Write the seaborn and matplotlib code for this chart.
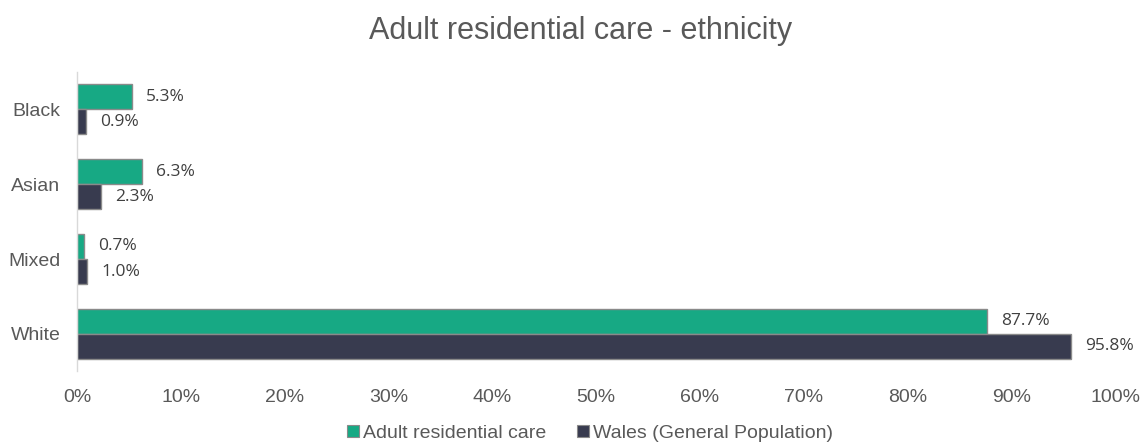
import matplotlib
matplotlib.use("Agg")
import matplotlib.pyplot as plt
import seaborn as sns
import pandas as pd
from matplotlib.patches import Patch

categories = ["Black", "Asian", "Mixed", "White"]
series_names = ["Adult residential care", "Wales (General Population)"]
care_values = [5.3, 6.3, 0.7, 87.7]
wales_values = [0.9, 2.3, 1.0, 95.8]
colors = ["#17A984", "#383B4F"]

df = pd.DataFrame({
    "Ethnicity": categories * 2,
    "Value": care_values + wales_values,
    "Series": [series_names[0]] * 4 + [series_names[1]] * 4,
})

sns.set_theme(style="white")
plt.rcParams["font.family"] = ["Liberation Sans", "DejaVu Sans"]

fig = plt.figure(figsize=(11.46, 4.48), dpi=100)
ax = fig.add_axes([0.0672, 0.171, 0.9058, 0.669])

sns.barplot(data=df, y="Ethnicity", x="Value", hue="Series", order=categories,
            hue_order=series_names, palette=colors, saturation=1, orient="h", width=0.67,
            edgecolor="#8a8a8a", linewidth=1.0, ax=ax, legend=False, errorbar=None)

for container in ax.containers:
    ax.bar_label(container, labels=[f"{v:.1f}%" for v in container.datavalues],
                 padding=10, fontsize=12.5, color="#404040", family="Open Sans")

ax.set_xlim(0, 100)
ax.set_ylim(3.5, -0.5)
ax.set_xticks(range(0, 101, 10))
ax.set_xticklabels([f"{t}%" for t in range(0, 101, 10)])
ax.tick_params(axis="x", labelsize=14, colors="#595959", length=0, pad=13)
ax.tick_params(axis="y", labelsize=14, colors="#595959", length=0, pad=12)
ax.set_xlabel("")
ax.set_ylabel("")
for s in ["top", "right", "bottom"]:
    ax.spines[s].set_visible(False)
ax.spines["left"].set_color("#d9d9d9")
ax.spines["left"].set_linewidth(1.0)
ax.grid(False)

fig.suptitle("Adult residential care - ethnicity", x=0.507, y=0.965, fontsize=22, color="#595959")

handles = [Patch(facecolor=c, edgecolor="#8a8a8a", linewidth=0.8) for c in colors]
fig.legend(handles, series_names, loc="lower center", bbox_to_anchor=(0.515, -0.025),
           ncol=2, frameon=False, fontsize=14, labelcolor="#595959",
           handlelength=0.6, handleheight=0.6, handletextpad=0.2, columnspacing=1.6)

fig.savefig("out.png", dpi=100)
